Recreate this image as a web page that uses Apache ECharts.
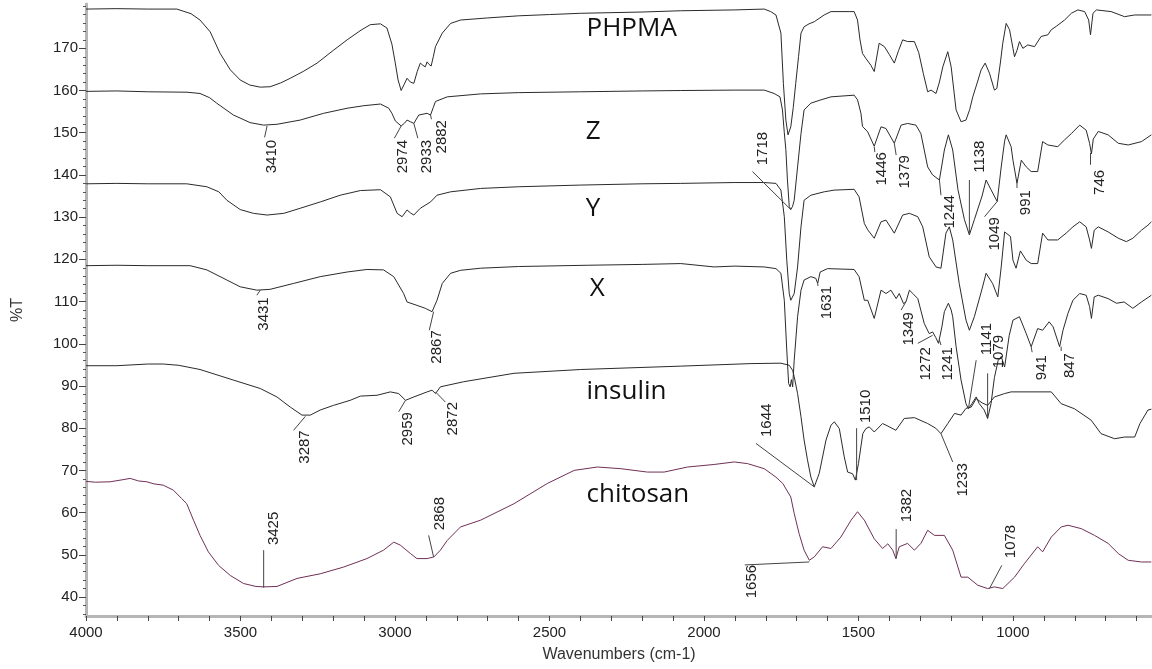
<!DOCTYPE html>
<html>
<head>
<meta charset="utf-8">
<script src="https://cdn.jsdelivr.net/npm/echarts@6/dist/echarts.min.js"></script>
<style>
html,body{margin:0;padding:0;background:#fff;}
#chart{width:1152px;height:669px;}
</style>
</head>
<body>
<div id="chart"></div>
<script>
// ---- data: [wavenumber, %T] ----
const phpma = [[4000,179.3],[3900,179.4],[3800,179.3],[3706,179.3],[3660,178.2],[3631,176.7],[3598,173.9],[3566,168.8],[3533,164.9],[3501,162.5],[3470,161.3],[3436,160.8],[3404,160.9],[3370,161.8],[3339,162.9],[3295,164.6],[3252,166.5],[3200,169.5],[3155,172],[3110,174.3],[3080,175.6],[3047,175.8],[3026,174.8],[3010,171],[2999,166.5],[2990,162.5],[2980,160],[2970,161.5],[2961,162.9],[2950,162],[2939,161.7],[2928,164.5],[2918,166.5],[2910,166],[2902,165.6],[2896,166.8],[2890,166.2],[2883,165.8],[2876,168],[2869,170.4],[2847,173.6],[2820,175.9],[2788,176.7],[2700,177.2],[2600,177.7],[2500,178],[2399,178.3],[2200,178.6],[2075,178.9],[1900,179.1],[1805,179.3],[1784,178.7],[1767,177.9],[1751,173.6],[1743,161.7],[1735,153],[1728,149.5],[1719,151.4],[1711,156],[1703,161.7],[1694,168],[1686,173.6],[1676,175.1],[1660,175.8],[1643,176.3],[1611,177.9],[1589,178.7],[1530,178.7],[1514,178.7],[1503,176.7],[1495,172],[1487,168.8],[1476,167.6],[1470,167.6],[1460,166],[1449,164.5],[1433,171.2],[1416,170.4],[1400,168.5],[1384,166.5],[1370,169.5],[1357,172],[1341,171.6],[1319,171.6],[1305,169],[1290,164],[1276,159.7],[1265,160.1],[1249,159.3],[1238,162],[1227,165.6],[1211,169.2],[1200,165.6],[1184,155.4],[1168,152.6],[1152,153],[1140,155.5],[1130,158.5],[1115,162],[1103,164.9],[1090,166.5],[1076,164.1],[1060,160.1],[1052,160.5],[1040,167],[1033,171.2],[1022,175.9],[1011,174.4],[1000,170],[995,168],[987,169.5],[979,171.6],[968,170],[952,170.8],[930,170.4],[909,172.8],[887,173.2],[876,174.4],[860,175.2],[833,176.7],[811,178.3],[790,179.1],[768,178.7],[755,176.7],[749,173.2],[741,178.3],[730,179.1],[682,178.7],[639,177.5],[606,177.9],[552,177.9]];

const sampleZ = [[4000,159.8],[3900,159.9],[3800,159.7],[3673,159.6],[3631,159.3],[3600,158.3],[3577,157],[3550,155.6],[3523,154.2],[3469,152.4],[3425,151.8],[3382,152],[3307,153],[3231,154.6],[3155,155.8],[3101,156.4],[3047,156.8],[3020,155.8],[3010,154.6],[2999,152.8],[2980,151.6],[2970,152.2],[2961,153],[2950,152.6],[2939,152.2],[2923,154.2],[2896,154.6],[2885,154.2],[2876,156],[2869,157.4],[2831,158.5],[2723,159.2],[2600,159.5],[2399,159.7],[2200,159.9],[2075,160],[1900,160.1],[1805,160.1],[1773,159.3],[1754,158.5],[1746,155.4],[1740,150],[1735,146],[1730,139],[1724,132.5],[1719,131.8],[1713,132.6],[1708,134],[1697,141.9],[1686,149.8],[1676,155.4],[1654,157],[1621,157.8],[1589,158.5],[1514,158.9],[1503,157.8],[1492,154.6],[1487,151.5],[1470,150.2],[1449,146.8],[1427,151.4],[1411,151],[1384,147.5],[1362,151.8],[1341,152.2],[1314,151.8],[1298,149.8],[1276,141.9],[1260,140],[1238,138.8],[1222,145.9],[1209,149.5],[1195,145.9],[1178,136.5],[1157,129.4],[1141,125.8],[1125,129.4],[1100,135],[1087,138.8],[1071,136.5],[1051,133.7],[1038,141.9],[1027,148],[1022,149.5],[1006,146.7],[1000,143.5],[987,138],[973,143.5],[957,141.9],[941,140.8],[920,140.8],[904,147.9],[887,147.1],[855,146.7],[833,148.3],[811,149.8],[784,151.8],[763,150.6],[752,147.5],[746,145],[740,148.5],[724,150.3],[692,149.5],[659,147.5],[627,147.1],[584,147.9],[552,149.5]];

const sampleY = [[4000,137.9],[3900,138],[3800,137.9],[3674,137.9],[3609,137.2],[3570,136],[3544,134],[3501,131.8],[3458,130.9],[3414,130.5],[3360,130.9],[3307,132.1],[3242,133.6],[3177,135.2],[3112,136.3],[3047,136.5],[3015,134.8],[2993,130.9],[2977,130.1],[2961,131.7],[2950,131],[2939,130.5],[2918,132.1],[2885,133.6],[2864,135.2],[2820,136],[2723,136.8],[2600,137.2],[2399,137.6],[2200,137.9],[2075,138],[1900,138.2],[1805,138.2],[1767,138],[1751,136.4],[1740,130.1],[1732,119.8],[1724,111.9],[1719,110.3],[1708,111.9],[1697,118.2],[1686,127.7],[1676,134],[1654,135.2],[1611,136],[1579,136.4],[1514,136.6],[1498,134.8],[1481,128.5],[1470,127],[1449,125],[1427,128.9],[1411,129.3],[1384,126.2],[1357,130.5],[1335,130.9],[1308,130.1],[1292,127.7],[1271,120.6],[1249,118.2],[1233,117.9],[1217,126.2],[1206,127.7],[1195,124.6],[1174,114.3],[1152,105.6],[1141,103.2],[1125,106.4],[1100,113],[1087,116.7],[1066,114.3],[1049,111.1],[1038,118.2],[1027,126.5],[1022,126.9],[1008,125.4],[1000,119.8],[990,117.9],[976,122],[957,119.8],[941,119],[920,119],[904,126.2],[887,124.6],[855,124.6],[828,126.2],[806,127.7],[784,128.9],[763,127.7],[752,124.6],[746,122.6],[737,126.9],[724,127.7],[692,126.5],[659,125],[633,124.2],[612,125],[584,126.9],[563,128.1],[552,128.9]];

const sampleX = [[4000,118.5],[3900,118.6],[3800,118.5],[3663,118.5],[3609,117.5],[3544,115.1],[3501,113.5],[3447,112.7],[3404,112.9],[3328,114.3],[3242,115.9],[3155,117],[3091,117.6],[3037,117.5],[3004,115.9],[2988,113.9],[2972,111.9],[2961,109.9],[2929,109.1],[2902,108.4],[2880,107.6],[2864,110.3],[2847,114.3],[2820,116.7],[2788,117.4],[2723,117.9],[2600,118.3],[2378,118.6],[2200,118.8],[2075,119],[1967,118.2],[1900,118.4],[1805,118.2],[1767,117.8],[1751,116.7],[1740,110.3],[1732,98.5],[1726,90.6],[1721,89.8],[1717,91.5],[1713,89.8],[1708,96.1],[1697,106.4],[1686,112.7],[1676,115.1],[1654,115.9],[1638,115.5],[1632,114.3],[1624,117],[1600,117.8],[1514,117.6],[1498,115.9],[1481,110.3],[1470,110.3],[1449,106],[1427,112.7],[1411,111.9],[1395,112.7],[1378,110.7],[1368,111.9],[1354,109.5],[1346,110],[1335,112.7],[1324,111.9],[1308,110.7],[1287,104.8],[1271,102.4],[1260,102.8],[1250,101.5],[1241,100.1],[1230,104],[1222,107.6],[1209,109.6],[1200,108],[1195,106.4],[1184,99.3],[1168,91.4],[1152,85.8],[1144,84.6],[1133,85.8],[1119,87.4],[1109,85.8],[1093,84.3],[1082,82.3],[1071,85.8],[1060,92],[1048,96],[1038,97],[1027,94.5],[1012,102],[1000,105.6],[979,106.4],[957,102.4],[941,99.3],[920,103.6],[904,103.2],[883,105.2],[870,104],[849,99.3],[838,103.2],[822,107.2],[806,110.3],[784,111.9],[763,111.5],[752,108.8],[746,106],[737,111.1],[724,111.5],[692,110.7],[665,109.6],[640,109.9],[612,108.4],[584,109.9],[552,111.5]];

const insulin = [[4000,94.8],[3900,94.8],[3800,95.2],[3750,95.2],[3700,94.9],[3631,93.9],[3523,91.4],[3436,89.4],[3382,87.4],[3339,85],[3301,83.1],[3274,83.1],[3242,84.3],[3199,85.4],[3145,86.6],[3112,87.6],[3058,87.8],[3015,88.6],[2988,88.2],[2966,86.6],[2939,87.4],[2896,88.6],[2880,89],[2869,88.2],[2853,89.8],[2778,91],[2615,93],[2399,93.9],[2075,94.7],[1848,95.3],[1751,95.4],[1724,94.9],[1713,93.7],[1708,92.2],[1697,88.2],[1686,82.7],[1676,77.2],[1665,72.5],[1654,68.4],[1643,66.1],[1627,69.3],[1605,77.2],[1589,80.7],[1578,81.5],[1562,79.9],[1546,73.2],[1535,69.6],[1519,69.2],[1510,67.7],[1500,71.6],[1486,78.7],[1476,79.9],[1465,80.3],[1449,79.1],[1422,81.1],[1405,80.5],[1379,79.5],[1352,82.3],[1319,82.5],[1276,81.1],[1250,80],[1233,78.7],[1211,81.1],[1189,83.5],[1168,83.1],[1152,84.7],[1135,85],[1119,87],[1100,86],[1082,85.4],[1060,87.4],[1027,88.2],[1006,88.6],[909,88.6],[876,88.6],[844,85.8],[801,84.6],[747,81.9],[715,78.7],[671,77.5],[639,77.9],[606,77.9],[589,81.1],[563,84.3],[552,84.5]];

const chitosan = [[4000,67.4],[3970,67.2],[3922,67.3],[3880,67.8],[3857,68.1],[3830,67.5],[3803,67.3],[3780,66.8],[3750,66.5],[3717,65.3],[3690,63.3],[3674,62.1],[3652,58.2],[3631,54.6],[3604,50.7],[3571,47.5],[3533,45.1],[3490,43.2],[3450,42.5],[3425,42.4],[3382,42.5],[3317,44.4],[3242,45.5],[3166,47.1],[3091,49.1],[3037,51.1],[3004,53],[2983,52.3],[2950,50.3],[2929,49.1],[2896,49.1],[2874,49.5],[2853,51.1],[2831,53.4],[2788,56.6],[2723,58.2],[2615,62.1],[2507,66.9],[2420,70],[2345,70.8],[2269,70.4],[2183,69.6],[2129,69.6],[2053,70.8],[1967,71.4],[1902,72],[1859,71.6],[1805,70.4],[1767,68.4],[1745,66.9],[1719,63.7],[1708,59.8],[1692,55],[1676,51.1],[1659,48.7],[1643,49.5],[1616,51.9],[1589,51.5],[1557,54.2],[1524,58.2],[1503,60.2],[1481,58.2],[1449,53.8],[1422,51.5],[1405,52.6],[1389,51.1],[1379,49.1],[1368,51.9],[1341,52.7],[1319,51.1],[1298,52.7],[1276,55.8],[1254,54.6],[1222,54.6],[1195,51.1],[1168,44.7],[1146,44.7],[1114,42.8],[1082,42],[1060,42.4],[1033,42],[995,44.7],[963,47.9],[920,51.9],[904,50.7],[876,54.2],[844,56.6],[822,57],[779,56.2],[736,54.6],[692,52.7],[659,50.3],[627,48.7],[584,48.3],[552,48.3]];

// ---- ticks ----
const xTickLabels = [4000,3500,3000,2500,2000,1500,1000];
const xTicks = [4000,3900,3800,3700,3600,3500,3400,3300,3200,3100,3000,2900,2800,2700,2600,2500,2400,2300,2200,2100,2000,1900,1800,1700,1600,1500,1400,1300,1200,1100,1000,900,800,700,600];
const yTickLabels = [40,50,60,70,80,90,100,110,120,130,140,150,160,170];
const yMinorTicks = [36,38,42,44,46,48,52,54,56,58,62,64,66,68,72,74,76,78,82,84,86,88,92,94,96,98,102,104,106,108,112,114,116,118,122,124,126,128,132,134,136,138,142,144,146,148,152,154,156,158,162,164,166,168,172,174,176,178,180];

// ---- sample names: [text, wavenumber, %T] ----
const sampleNames = [['PHPMA',2380,174.6],['Z',2383,150.3],['Y',2383,132.0],['X',2370,113.0],['insulin',2380,88.6],['chitosan',2380,64.2]];

// ---- peak annotations: [text, tipWn, tipT, endWn, endT, textWn, textT, side] ----
const peaks = [
 ['3410',3414,151.6,3422,148.9,3399,148.3,'below'],
 ['2974',2980,151.6,3002,148.7,2974,148.3,'below'],
 ['2933',2939,152.2,2926,148.7,2897,148.3,'below'],
 ['2882',2885,154.2,2882,153.2,2848,153.0,'below'],
 ['1718',1719,131.8,1843,140.8,1811,142.3,'above'],
 ['1446',1449,146.7,1447,145.4,1424,145.4,'below'],
 ['1379',1384,147.5,1378,144.7,1351,144.7,'below'],
 ['1244',1238,138.8,1233,135.2,1205,135.2,'below'],
 ['1138',1141,125.8,1141,138.8,1108,140.5,'above'],
 ['1049',1051,133.7,1092,130.1,1059,130.0,'below'],
 ['991',987,138,987,136.9,957,136.4,'below'],
 ['746',749,145.2,749,142.4,719,141.2,'below'],
 ['3431',3436,112.7,3447,111.5,3425,111.0,'below'],
 ['2867',2875,107.6,2889,103.2,2864,103.2,'below'],
 ['1631',1632,114.3,1631,113.7,1601,113.7,'below'],
 ['1349',1346,110,1362,108,1336,107.5,'below'],
 ['1272',1260,102,1308,100.1,1281,99.2,'below'],
 ['1241',1238,100.9,1233,99.7,1212,99.2,'below'],
 ['1141',1144,84.7,1119,96.1,1084,97.3,'above'],
 ['1079',1082,82.3,1082,93,1046,94.2,'above'],
 ['941',941,99.3,938,98,905,97.3,'below'],
 ['847',844,99.3,844,98.3,816,97.8,'below'],
 ['3287',3290,82.8,3328,79.5,3292,79.5,'below'],
 ['2959',2966,86.6,2988,83.9,2958,83.8,'below'],
 ['2872',2869,88.6,2837,86.2,2812,86.2,'below'],
 ['1644',1643,66.1,1832,76.4,1797,77.9,'above'],
 ['1510',1506,67.7,1506,80,1476,81.2,'above'],
 ['1233',1233,78.7,1195,72,1163,71.7,'below'],
 ['3425',3425,42.2,3425,51.1,3392,52.3,'above'],
 ['2868',2875,49.5,2891,54.6,2856,55.8,'above'],
 ['1656',1659,48.3,1868,47.6,1844,47.6,'below'],
 ['1382',1378,49.1,1378,56.1,1343,57.7,'above'],
 ['1078',1076,42,1036,47.5,1006,49.2,'above']
];

const LINE = '#2a2a2a';
const CHITOSAN = '#6e3056';
const FONT = '"Liberation Sans", Arial, sans-serif';

function spectrum(name, data, color) {
  return {
    name, type: 'line', data, showSymbol: false, symbol: 'none',
    lineStyle: { color, width: 1 }, xAxisIndex: 0, yAxisIndex: 0,
    silent: true, z: 2
  };
}

const chart = echarts.init(document.getElementById('chart'), null, { renderer: 'canvas' });
const option = {
  animation: false,
  backgroundColor: '#fff',
  grid: { left: 86, right: 0, top: 4, bottom: 53, containLabel: false },
  xAxis: [{
    type: 'value', inverse: true, min: 550, max: 4000,
    name: 'Wavenumbers (cm-1)', nameLocation: 'middle', nameGap: 31,
    nameTextStyle: { fontFamily: FONT, fontSize: 16, color: '#333' },
    axisLine: { show: true, onZero: false, lineStyle: { color: '#b5b5b5', width: 3 } },
    axisTick: { show: true, customValues: xTicks, length: 5, lineStyle: { color: '#444', width: 1 } },
    axisLabel: { customValues: xTickLabels, formatter: v => String(v), fontFamily: FONT, fontSize: 15, color: '#222', margin: 9 },
    splitLine: { show: false }
  }],
  yAxis: [{
    type: 'value', min: 35.5, max: 180.5,
    name: '%T', nameLocation: 'middle', nameGap: 60,
    nameTextStyle: { fontFamily: FONT, fontSize: 16, color: '#333' },
    axisLine: { show: true, onZero: false, lineStyle: { color: '#b5b5b5', width: 3 } },
    axisTick: { show: true, customValues: yTickLabels, length: 7, lineStyle: { color: '#444', width: 1 } },
    axisLabel: { customValues: yTickLabels, formatter: v => String(v), fontFamily: FONT, fontSize: 15, color: '#222', margin: 8 },
    splitLine: { show: false }
  }, {
    type: 'value', min: 35.5, max: 180.5, position: 'left',
    axisLine: { show: false },
    axisTick: { show: true, customValues: yMinorTicks, length: 3, lineStyle: { color: '#555', width: 1 } },
    axisLabel: { show: false },
    splitLine: { show: false }
  }],
  series: [
    spectrum('PHPMA', phpma, LINE),
    spectrum('Z', sampleZ, LINE),
    spectrum('Y', sampleY, LINE),
    spectrum('X', sampleX, LINE),
    spectrum('insulin', insulin, LINE),
    spectrum('chitosan', chitosan, CHITOSAN),
    {
      type: 'custom', name: 'peaks', coordinateSystem: 'cartesian2d',
      xAxisIndex: 0, yAxisIndex: 0, silent: true, clip: false, z: 5,
      data: peaks.map(p => [p[1], p[2]]),
      renderItem: function (params, api) {
        const p = peaks[params.dataIndex];
        const a = api.coord([p[1], p[2]]);
        const b = api.coord([p[3], p[4]]);
        const t = api.coord([p[5], p[6]]);
        return {
          type: 'group',
          children: [
            { type: 'line', shape: { x1: a[0], y1: a[1], x2: b[0], y2: b[1] },
              style: { stroke: '#444', lineWidth: 1 } },
            { type: 'text', x: t[0], y: t[1], rotation: Math.PI / 2,
              style: { text: p[0], fill: '#222', font: '15px ' + FONT,
                align: p[7] === 'below' ? 'right' : 'left', verticalAlign: 'middle' } }
          ]
        };
      }
    },
    {
      type: 'custom', name: 'names', coordinateSystem: 'cartesian2d',
      xAxisIndex: 0, yAxisIndex: 0, silent: true, clip: false, z: 5,
      data: sampleNames.map(s => [s[1], s[2]]),
      renderItem: function (params, api) {
        const s = sampleNames[params.dataIndex];
        const c = api.coord([s[1], s[2]]);
        return { type: 'text', x: c[0], y: c[1],
          style: { text: s[0], fill: '#111', font: '26px "Open Sans", "Noto Sans", sans-serif',
            align: 'left', verticalAlign: 'middle' } };
      }
    }
  ]
};
chart.setOption(option);
</script>
</body>
</html>
